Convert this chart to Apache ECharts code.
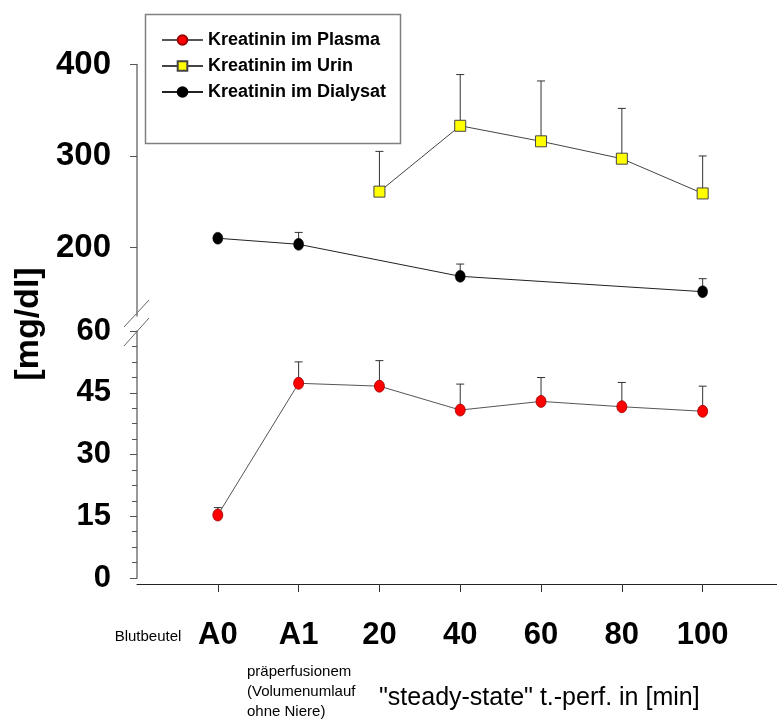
<!DOCTYPE html>
<html>
<head>
<meta charset="utf-8">
<script src="https://cdn.jsdelivr.net/npm/echarts@6/dist/echarts.min.js"></script>
<style>
  html, body { margin: 0; padding: 0; background: #fff; }
  #chart { width: 777px; height: 722px; }
</style>
</head>
<body>
<div id="chart"></div>
<script>
// time points (x position = index)
var categories = ['A0', 'A1', '20', '40', '60', '80', '100'];

// Kreatinin im Plasma [mg/dl] + SD
var plasma = [15.3, 47.3, 46.6, 40.8, 42.9, 41.6, 40.5];
var plasmaSD = [1.8, 5.2, 6.2, 6.3, 5.8, 5.9, 6.1];

// Kreatinin im Urin
var urin = [null, null, 261, 333, 316, 297, 259];
var urinSD = [null, null, 44, 56, 66, 55, 41];

// Kreatinin im Dialysat
var dialysat = [210, 203.4, null, 168.4, null, null, 151.6];
var dialysatSD = [0, 13, null, 13.4, null, null, 14.2];

var lowerTicks = [0, 15, 30, 45, 60];
var upperTicks = [200, 300, 400];
var upperMinor = [150, 175, 225, 250, 275, 325, 350, 375];

var FONT = "'Liberation Sans', Arial, sans-serif";

function points(vals) {
    var out = [];
    vals.forEach(function (v, i) { if (v != null) out.push([i, v]); });
    return out;
}
function errors(vals, sd) {
    var out = [];
    vals.forEach(function (v, i) { if (v != null && sd[i]) out.push([i, v, v + sd[i]]); });
    return out;
}

function errorBar(params, api) {
    var x = api.value(0);
    var p0 = api.coord([x, api.value(1)]);
    var p1 = api.coord([x, api.value(2)]);
    var st = { stroke: '#333', lineWidth: 1 };
    return {
        type: 'group',
        children: [
            { type: 'line', shape: { x1: p0[0], y1: p0[1], x2: p1[0], y2: p1[1] }, style: st },
            { type: 'line', shape: { x1: p1[0] - 4, y1: p1[1], x2: p1[0] + 4, y2: p1[1] }, style: st }
        ]
    };
}

var chart = echarts.init(document.getElementById('chart'));
chart.setOption({
    animation: false,
    backgroundColor: '#fff',
    grid: [
        { left: 137, right: 0, top: 64.5, height: 251.5 },
        { left: 137, right: 0, top: 331, height: 247 }
    ],
    xAxis: [
        { gridIndex: 0, type: 'value', min: -1, max: 6.92, show: false },
        {
            gridIndex: 1, type: 'value', min: -1, max: 6.92, position: 'bottom', offset: 6,
            splitLine: { show: false },
            axisLine: { onZero: false, lineStyle: { color: '#222', width: 1 } },
            axisTick: { customValues: [0, 1, 2, 3, 4, 5, 6], length: 8, lineStyle: { color: '#333' } },
            axisLabel: {
                customValues: [0, 1, 2, 3, 4, 5, 6],
                margin: 36,
                formatter: function (v) { return categories[v]; },
                fontFamily: FONT, fontWeight: 'bold', fontSize: 31, color: '#000'
            }
        }
    ],
    yAxis: [
        {
            gridIndex: 0, type: 'value', min: 125, max: 400,
            splitLine: { show: false },
            axisLine: { show: true, onZero: false, lineStyle: { color: '#777', width: 1.5 } },
            axisTick: { customValues: upperTicks, length: 7, lineStyle: { color: '#555' } },
            axisLabel: {
                customValues: upperTicks, margin: 26,
                fontFamily: FONT, fontWeight: 'bold', fontSize: 33, color: '#000'
            }
        },
        {
            gridIndex: 1, type: 'value', min: 0, max: 60, interval: 15,
            splitLine: { show: false },
            axisLine: { show: true, onZero: false, lineStyle: { color: '#777', width: 1.5 } },
            axisTick: { length: 7, lineStyle: { color: '#555' } },
            minorTick: { show: true, splitNumber: 4, length: 5, lineStyle: { color: '#555' } },
            axisLabel: {
                customValues: lowerTicks, margin: 26,
                fontFamily: FONT, fontWeight: 'bold', fontSize: 31, color: '#000'
            }
        },
        {
            // minor ticks for the upper segment
            gridIndex: 0, type: 'value', min: 125, max: 400,
            splitLine: { show: false },
            axisLine: { show: false, onZero: false },
            axisTick: { customValues: upperMinor, length: 5, lineStyle: { color: '#555' } },
            axisLabel: { show: false }
        }
    ],
    legend: {
        data: ['Kreatinin im Plasma', 'Kreatinin im Urin', 'Kreatinin im Dialysat'],
        orient: 'vertical', left: 156, top: 26,
        itemWidth: 41, itemHeight: 12, itemGap: 8,
        textStyle: { fontFamily: FONT, fontWeight: 'bold', fontSize: 18, color: '#000', lineHeight: 18 }
    },
    graphic: [
        { type: 'rect', left: 143, top: 12, shape: { width: 255, height: 129 }, style: { fill: 'none', stroke: '#808080', lineWidth: 1.5 }, z: 1 },
        // axis break marks
        { type: 'line', shape: { x1: 124, y1: 327, x2: 149, y2: 300 }, style: { stroke: '#666', lineWidth: 1 } },
        { type: 'line', shape: { x1: 124, y1: 346, x2: 149, y2: 318 }, style: { stroke: '#666', lineWidth: 1 } },
        { type: 'text', x: 29, y: 324, rotation: Math.PI / 2, style: { text: '[mg/dl]', font: "bold 34px " + FONT, fill: '#000', align: 'center', verticalAlign: 'middle' } },
        { type: 'text', x: 148, y: 637, style: { text: 'Blutbeutel', font: "15px " + FONT, fill: '#000', align: 'center', verticalAlign: 'middle' } },
        { type: 'text', x: 247, y: 662, style: { text: 'präperfusionem\n(Volumenumlauf\nohne Niere)', font: "15px " + FONT, lineHeight: 20, fill: '#000', align: 'left', verticalAlign: 'top' } },
        { type: 'text', x: 379, y: 698, style: { text: '"steady-state" t.-perf. in [min]', font: "25px " + FONT, fill: '#000', align: 'left', verticalAlign: 'middle' } }
    ],
    series: [
        { type: 'custom', xAxisIndex: 1, yAxisIndex: 1, renderItem: errorBar, data: errors(plasma, plasmaSD), z: 2, silent: true },
        { type: 'custom', xAxisIndex: 0, yAxisIndex: 0, renderItem: errorBar, data: errors(urin, urinSD), z: 2, silent: true },
        { type: 'custom', xAxisIndex: 0, yAxisIndex: 0, renderItem: errorBar, data: errors(dialysat, dialysatSD), z: 2, silent: true },
        {
            name: 'Kreatinin im Plasma', type: 'line', xAxisIndex: 1, yAxisIndex: 1,
            data: points(plasma), symbol: 'circle', symbolSize: [10, 12],
            itemStyle: { color: '#ff0000', borderColor: '#900', borderWidth: 0.8 },
            lineStyle: { color: '#555', width: 1 }, z: 3
        },
        {
            name: 'Kreatinin im Urin', type: 'line', xAxisIndex: 0, yAxisIndex: 0,
            data: points(urin), symbol: 'rect', symbolSize: [11, 11],
            itemStyle: { color: '#ffff00', borderColor: '#444', borderWidth: 1 },
            lineStyle: { color: '#444', width: 1 }, z: 3
        },
        {
            name: 'Kreatinin im Dialysat', type: 'line', xAxisIndex: 0, yAxisIndex: 0,
            data: points(dialysat), symbol: 'circle', symbolSize: [10, 12],
            itemStyle: { color: '#000', borderColor: '#000', borderWidth: 0.5 },
            lineStyle: { color: '#222', width: 1 }, z: 3
        }
    ]
});
</script>
</body>
</html>
